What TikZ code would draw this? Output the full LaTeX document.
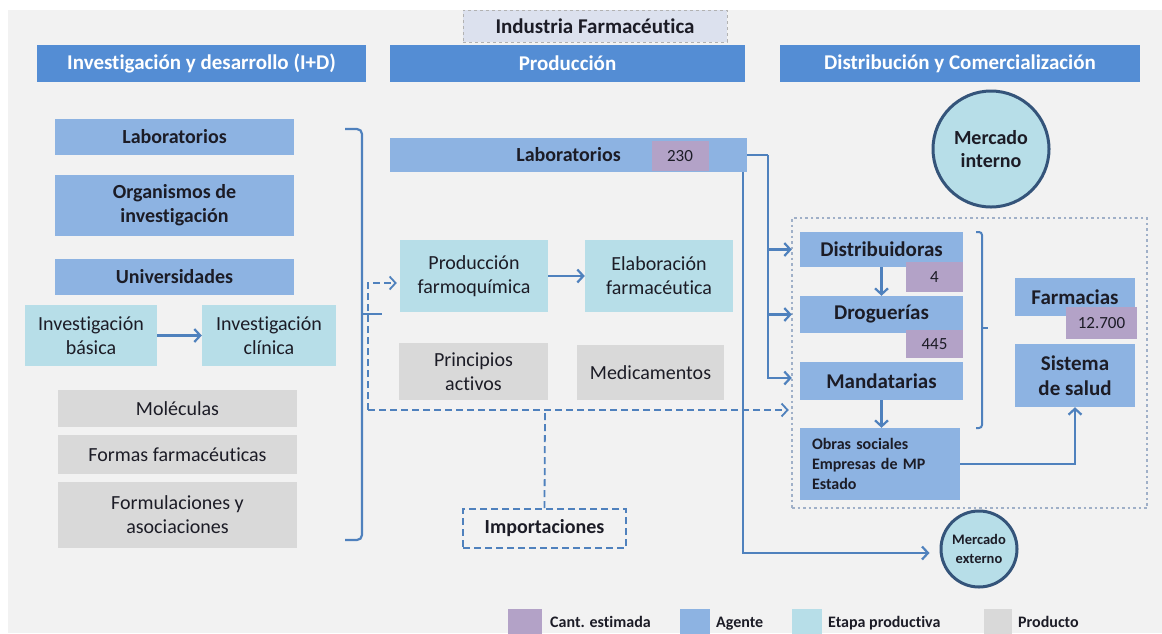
\documentclass[tikz,border=0pt]{standalone}
\usepackage{fontspec}
\setmainfont{Carlito}[Ligatures=NoCommon]
\usetikzlibrary{arrows.meta}

\definecolor{bggray}{RGB}{242,242,242}
\definecolor{hdblue}{RGB}{84,141,212}
\definecolor{agblue}{RGB}{141,179,226}
\definecolor{stcyan}{RGB}{183,222,232}
\definecolor{prgray}{RGB}{217,217,217}
\definecolor{qpurple}{RGB}{179,162,199}
\definecolor{lnblue}{RGB}{79,129,189}
\definecolor{mkborder}{RGB}{52,84,122}
\definecolor{dotgray}{RGB}{160,176,200}
\definecolor{ttfill}{RGB}{220,225,238}
\definecolor{txt}{RGB}{28,28,38}

\begin{document}
\begin{tikzpicture}[x=1pt,y=-1pt,
    >={Straight Barb[length=6pt,width=13pt]},
    every node/.style={font=\fontsize{20}{24}\selectfont, text=txt,
      align=center, inner sep=0pt},
    header/.style={rectangle, fill=hdblue, text=white, minimum height=37pt,
      font=\fontsize{21}{24}\selectfont\bfseries},
    agent/.style={rectangle, fill=agblue, font=\fontsize{20}{24}\selectfont\bfseries},
    stage/.style={rectangle, fill=stcyan},
    product/.style={rectangle, fill=prgray},
    qty/.style={rectangle, fill=qpurple, font=\fontsize{17}{20}\selectfont},
    market/.style={circle, fill=stcyan, draw=mkborder, line width=3pt},
    link/.style={draw=lnblue, line width=2.2pt},
    dlink/.style={draw=lnblue, line width=1.8pt, dash pattern=on 7pt off 4pt},
    legbox/.style={rectangle, minimum height=25pt},
    legtext/.style={anchor=base west, font=\fontsize{16}{18}\selectfont\bfseries}]

    \useasboundingbox (0,0) rectangle (1162,633);
    \fill[white] (0,0) rectangle (1162,633);
    \fill[bggray] (8,10) rectangle (1162,633);

    \node[rectangle, fill=ttfill, draw=gray!60, dashed, minimum width=264pt,
      minimum height=32pt, font=\fontsize{21}{24}\selectfont\bfseries]
      (titulo) at (595,26) {Industria Farmacéutica};

    \node[header, minimum width=329pt] (hID) at (201.5,63.5) {Investigación y desarrollo (I+D)};
    \node[header, minimum width=355pt] (hProd) at (567.5,63.5) {Producción};
    \node[header, minimum width=360pt] (hDist) at (960,63.5) {Distribución y Comercialización};

    \node[agent, minimum width=239pt, minimum height=36pt] (labID) at (174.5,137) {Laboratorios};
    \node[agent, minimum width=239pt, minimum height=61pt] (orgInv) at (174.5,205.5) {Organismos de\\investigación};
    \node[agent, minimum width=239pt, minimum height=36pt] (univ) at (174.5,277) {Universidades};

    \node[stage, minimum width=132pt, minimum height=61pt] (invBas) at (91,335.5) {Investigación\\básica};
    \node[stage, minimum width=134pt, minimum height=61pt] (invClin) at (269,335.5) {Investigación\\clínica};

    \node[product, minimum width=239pt, minimum height=37pt] (molec) at (177.5,408.5) {Moléculas};
    \node[product, minimum width=239pt, minimum height=39pt] (formas) at (177.5,454.5) {Formas farmacéuticas};
    \node[product, minimum width=239pt, minimum height=66pt] (formul) at (177.5,515) {Formulaciones y\\asociaciones};

    \node[agent, minimum width=357pt, minimum height=34pt] (labProd) at (568.5,155) {Laboratorios};
    \node[qty, minimum width=57pt, minimum height=30pt] (q230) at (680,156) {230};

    \node[stage, minimum width=148pt, minimum height=72pt] (prodFarmo) at (474,276) {Producción\\farmoquímica};
    \node[stage, minimum width=148pt, minimum height=72pt] (elabFarm) at (659,276) {Elaboración\\farmacéutica};
    \node[product, minimum width=149pt, minimum height=57pt] (princ) at (473.5,371.5) {Principios\\activos};
    \node[product, minimum width=147pt, minimum height=55pt] (medic) at (650.5,372.5) {Medicamentos};

    \node[rectangle, draw=lnblue, line width=1.8pt, dash pattern=on 7pt off 4pt,
      minimum width=163pt, minimum height=39pt, font=\fontsize{20}{24}\selectfont\bfseries]
      (import) at (544.5,528.5) {Importaciones};

    \node[market, minimum size=116pt, font=\fontsize{20}{23}\selectfont\bfseries]
      (mInt) at (991,149) {Mercado\\interno};
    \node[market, minimum size=76pt, font=\fontsize{14.5}{19}\selectfont\bfseries]
      (mExt) at (979,549) {Mercado\\externo};

    \node[rectangle, draw=dotgray, line width=2.5pt, dash pattern=on 2.5pt off 3pt,
      minimum width=355pt, minimum height=290pt] (canal) at (969.5,363) {};

    \node[agent, minimum width=163pt, minimum height=35pt, font=\fontsize{21}{24}\selectfont\bfseries] (distrib) at (881.5,249.5) {Distribuidoras};
    \node[qty, minimum width=57pt, minimum height=30pt] (q4) at (934.5,277) {4};
    \node[agent, minimum width=163pt, minimum height=37pt, font=\fontsize{21}{24}\selectfont\bfseries] (drog) at (881.5,314.5) {Droguerías};
    \node[qty, minimum width=57pt, minimum height=28pt] (q445) at (934.5,344) {445};
    \node[agent, minimum width=163pt, minimum height=38pt, font=\fontsize{21}{24}\selectfont\bfseries] (mandat) at (881.5,381) {Mandatarias};
    \node[agent, minimum width=160pt, minimum height=72pt, text width=136pt, align=left,
      font=\fontsize{16}{20}\selectfont\bfseries] (obras) at (880,464) {Obras sociales\\Empresas de MP\\Estado};

    \node[agent, minimum width=120pt, minimum height=38pt, font=\fontsize{21}{24}\selectfont\bfseries] (farm) at (1075,297) {Farmacias};
    \node[qty, minimum width=71pt, minimum height=32pt] (q12700) at (1101.5,323) {12.700};
    \node[agent, minimum width=120pt, minimum height=63pt, font=\fontsize{21}{25}\selectfont\bfseries] (sistema) at (1075,375.5) {Sistema\\de salud};

    \draw[link, rounded corners=5pt] (345,129) -- (362,129) -- (362,540) -- (345,540);
    \draw[link] (362,314) -- (382,314);
    \draw[link, line width=2pt, rounded corners=3pt] (976,232) -- (982,232) -- (982,428) -- (976,428);
    \draw[link, line width=2pt] (982,328) -- (988,328);

    \draw[link,->] (invBas) -- (invClin);
    \draw[link,->] (prodFarmo) -- (elabFarm);

    \coordinate (dj) at (368,410);
    \coordinate (ij) at (545,410);
    \draw[dlink] (import.north) -- (ij);
    \draw[dlink,->,shorten >=2pt] (dj) -- (canal.west |- dj);
    \draw[dlink,->,shorten >=3pt] (dj) |- ([yshift=-7pt]prodFarmo.west);

    \coordinate (bus) at (768,155);
    \draw[link] (labProd.east) -- (bus);
    \draw[link,->,shorten >=8pt] (bus) |- ([yshift=3pt]mandat.west);
    \draw[link,->,shorten >=8pt] (bus |- distrib.west) -- (distrib.west);
    \draw[link,->,shorten >=8pt] (bus |- drog.west) -- (drog.west);
    \draw[link,->,shorten >=10pt] ([xshift=-4pt]labProd.south east) |- ([yshift=-4pt]mExt.west);

    \draw[link,->] (distrib.south) -- (drog.north);
    \draw[link,->] (mandat.south) -- (mandat.south |- obras.north);
    \draw[link,->] (obras.east) -| (sistema.south);

    \node[legbox, fill=qpurple, minimum width=34pt] (legQ) at (525,621) {};
    \node[legtext] (legQt) at (550,627) {Cant. estimada};
    \node[legbox, fill=agblue, minimum width=30pt] (legA) at (695,621) {};
    \node[legtext] (legAt) at (716,627) {Agente};
    \node[legbox, fill=stcyan, minimum width=30pt] (legE) at (807,621) {};
    \node[legtext] (legEt) at (828,627) {Etapa productiva};
    \node[legbox, fill=prgray, minimum width=28pt] (legP) at (998,621) {};
    \node[legtext] (legPt) at (1018,627) {Producto};

  \end{tikzpicture}
\end{document}
